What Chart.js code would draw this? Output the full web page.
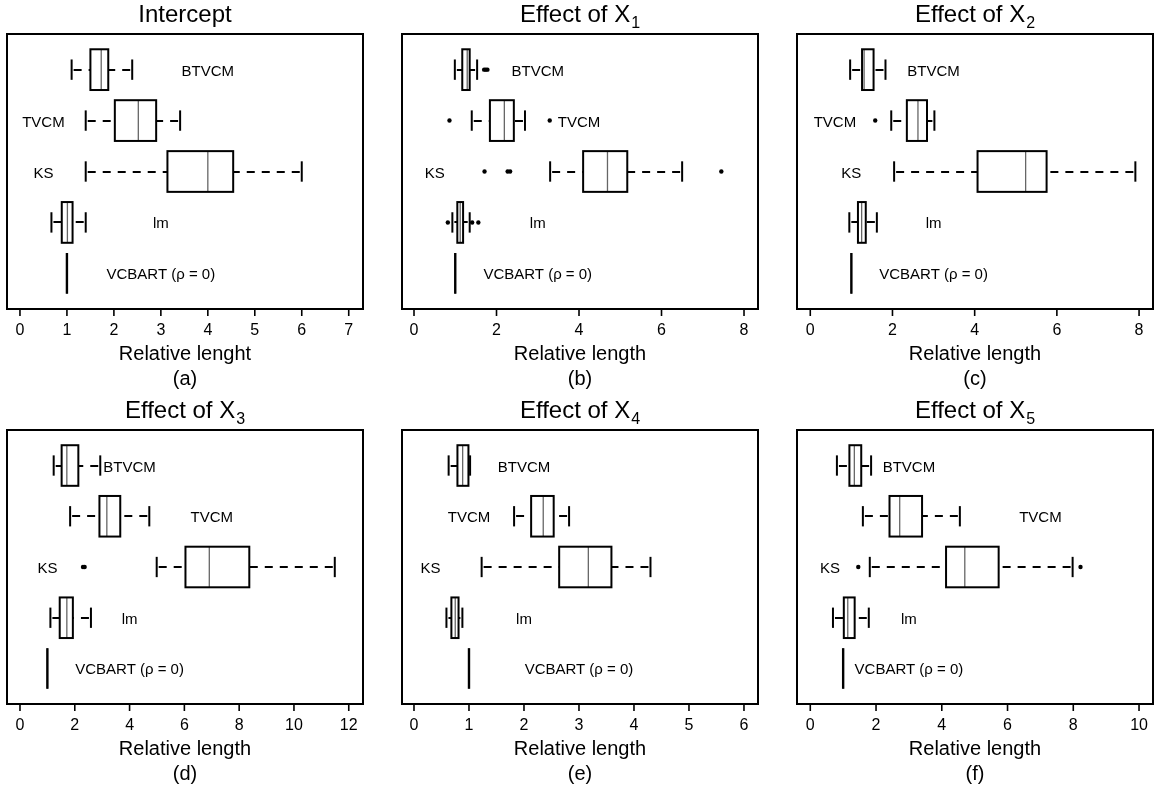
<!DOCTYPE html>
<html>
<head>
<meta charset="utf-8">
<script src="https://cdn.jsdelivr.net/npm/chart.js@4.4.1/dist/chart.umd.min.js"></script>
<style>
  body { margin: 0; background: #fff; width: 1156px; height: 790px; position: relative; overflow: hidden; }
  canvas { position: absolute; }
</style>
</head>
<body>
<canvas id="pa" width="390" height="395" style="left:0;top:0"></canvas>
<canvas id="pb" width="390" height="395" style="left:390px;top:0"></canvas>
<canvas id="pc" width="376" height="395" style="left:780px;top:0"></canvas>
<canvas id="pd" width="390" height="395" style="left:0;top:395px"></canvas>
<canvas id="pe" width="390" height="395" style="left:390px;top:395px"></canvas>
<canvas id="pf" width="376" height="395" style="left:780px;top:395px"></canvas>
<script>
const methods = ['BTVCM', 'TVCM', 'KS', 'lm', 'VCBART (\u03C1 = 0)'];

// five-number summaries per method: [min, q1, median, q3, max]
const interceptStats = [
  [1.10, 1.50, 1.73, 1.88, 2.39],
  [1.40, 2.02, 2.52, 2.90, 3.41],
  [1.40, 3.14, 4.00, 4.54, 6.00],
  [0.67, 0.89, 1.01, 1.12, 1.40],
  [1, 1, 1, 1, 1]
];
const x1Stats = [
  [0.99, 1.17, 1.29, 1.35, 1.53],
  [1.40, 1.84, 2.19, 2.42, 2.69],
  [3.30, 4.10, 4.69, 5.17, 6.50],
  [0.93, 1.05, 1.12, 1.19, 1.35],
  [1, 1, 1, 1, 1]
];
const x2Stats = [
  [0.97, 1.26, 1.31, 1.54, 1.83],
  [1.97, 2.35, 2.62, 2.84, 3.02],
  [2.04, 4.07, 5.24, 5.75, 7.91],
  [0.95, 1.16, 1.25, 1.35, 1.62],
  [1, 1, 1, 1, 1]
];
const x3Stats = [
  [1.23, 1.52, 1.71, 2.13, 2.93],
  [1.83, 2.90, 3.17, 3.66, 4.72],
  [4.99, 6.04, 6.91, 8.37, 11.49],
  [1.11, 1.45, 1.71, 1.93, 2.59],
  [1, 1, 1, 1, 1]
];
const x4Stats = [
  [0.63, 0.79, 0.885, 0.99, 1.02],
  [1.82, 2.13, 2.35, 2.54, 2.82],
  [1.23, 2.64, 3.17, 3.59, 4.30],
  [0.59, 0.68, 0.75, 0.81, 0.88],
  [1, 1, 1, 1, 1]
];
const x5Stats = [
  [0.81, 1.19, 1.34, 1.55, 1.85],
  [1.60, 2.41, 2.72, 3.40, 4.55],
  [1.81, 4.13, 4.70, 5.73, 7.98],
  [0.69, 1.02, 1.14, 1.35, 1.78],
  [1, 1, 1, 1, 1]
];

// outliers per method
const interceptOut = [[], [], [], [], []];
const x1Out = [[1.70, 1.74, 1.78], [0.86, 3.29], [1.71, 2.27, 2.33, 7.45], [0.82, 1.41, 1.56], []];
const x2Out = [[], [1.58], [], [], []];
const x3Out = [[], [], [2.30, 2.36], [], []];
const x4Out = [[], [], [], [], []];
const x5Out = [[], [], [1.46, 8.22], [], []];

// where the method names sit (x value)
const interceptLabelX = [4, 0.5, 0.5, 3, 3];
const x1LabelX = [3, 4, 0.5, 3, 3];
const x2LabelX = [3, 0.6, 1, 3, 3];
const x3LabelX = [4, 7, 1, 4, 4];
const x4LabelX = [2, 1, 0.3, 2, 3];
const x5LabelX = [3, 7, 0.6, 3, 3];

const interceptTicks = [0, 1, 2, 3, 4, 5, 6, 7];
const x1Ticks = [0, 2, 4, 6, 8];
const x2Ticks = [0, 2, 4, 6, 8];
const x3Ticks = [0, 2, 4, 6, 8, 10, 12];
const x4Ticks = [0, 1, 2, 3, 4, 5, 6];
const x5Ticks = [0, 2, 4, 6, 8, 10];

const FONT = '"Liberation Sans", Arial, Helvetica, sans-serif';

const panels = [
  { id: 'pa', title: 'Intercept', sub: '', xlab: 'Relative lenght', tag: '(a)', stats: interceptStats, out: interceptOut, labelX: interceptLabelX, ticks: interceptTicks, min: -0.276, max: 7.304, pad: { left: 7, right: 27, top: 34, bottom: 86 } },
  { id: 'pb', title: 'Effect of X', sub: '1', xlab: 'Relative length', tag: '(b)', stats: x1Stats, out: x1Out, labelX: x1LabelX, ticks: x1Ticks, min: -0.291, max: 8.339, pad: { left: 12, right: 22, top: 34, bottom: 86 } },
  { id: 'pc', title: 'Effect of X', sub: '2', xlab: 'Relative length', tag: '(c)', stats: x2Stats, out: x2Out, labelX: x2LabelX, ticks: x2Ticks, min: -0.323, max: 8.339, pad: { left: 17, right: 3, top: 34, bottom: 86 } },
  { id: 'pd', title: 'Effect of X', sub: '3', xlab: 'Relative length', tag: '(d)', stats: x3Stats, out: x3Out, labelX: x3LabelX, ticks: x3Ticks, min: -0.474, max: 12.52, pad: { left: 7, right: 27, top: 35, bottom: 86 } },
  { id: 'pe', title: 'Effect of X', sub: '4', xlab: 'Relative length', tag: '(e)', stats: x4Stats, out: x4Out, labelX: x4LabelX, ticks: x4Ticks, min: -0.218, max: 6.255, pad: { left: 12, right: 22, top: 35, bottom: 86 } },
  { id: 'pf', title: 'Effect of X', sub: '5', xlab: 'Relative length', tag: '(f)', stats: x5Stats, out: x5Out, labelX: x5LabelX, ticks: x5Ticks, min: -0.404, max: 10.425, pad: { left: 17, right: 3, top: 35, bottom: 86 } }
];

function seg(ctx, x0, y0, x1, y1) {
  ctx.beginPath();
  ctx.moveTo(x0, y0);
  ctx.lineTo(x1, y1);
  ctx.stroke();
}

const boxPlugin = {
  id: 'boxes',
  beforeDatasetsDraw(chart, args, opts) {
    const { ctx } = chart;
    const x = chart.scales.x, y = chart.scales.y;
    opts.stats.forEach((s, i) => {
      const row = i + 1;
      const yc = Math.round(y.getPixelForValue(row));
      const yt = y.getPixelForValue(row - 0.4);
      const yb = y.getPixelForValue(row + 0.4);
      const c0 = y.getPixelForValue(row - 0.2);
      const c1 = y.getPixelForValue(row + 0.2);
      const [mn, q1, md, q3, mx] = s.map(v => x.getPixelForValue(v));
      ctx.save();
      ctx.strokeStyle = '#000';
      ctx.lineWidth = 2;
      ctx.setLineDash([8, 7]);
      // whiskers run from the end towards the box
      if (q1 - mn > 0.5) seg(ctx, mn + 2, yc, q1, yc);
      if (mx - q3 > 0.5) seg(ctx, mx - 2, yc, q3, yc);
      ctx.setLineDash([]);
      if (q1 - mn > 0.5) seg(ctx, mn, c0, mn, c1);
      if (mx - q3 > 0.5) seg(ctx, mx, c0, mx, c1);
      // median
      ctx.strokeStyle = '#666';
      ctx.lineWidth = 1.3;
      seg(ctx, md, yt, md, yb);
      // box
      ctx.strokeStyle = '#000';
      ctx.lineWidth = 2;
      if (q3 - q1 > 0.5) {
        ctx.strokeRect(q1, yt, q3 - q1, yb - yt);
      } else {
        ctx.lineWidth = 2.4;
        seg(ctx, q1, yt, q1, yb);
      }
      ctx.restore();
    });
  },
  afterDraw(chart, args, opts) {
    const { ctx, chartArea: a } = chart;
    const x = chart.scales.x, y = chart.scales.y;
    ctx.save();
    ctx.strokeStyle = '#000';
    ctx.fillStyle = '#000';
    ctx.lineWidth = 2;
    ctx.strokeRect(a.left, a.top, a.right - a.left, a.bottom - a.top);

    // x axis ticks and labels
    ctx.lineWidth = 1.6;
    ctx.font = '16px ' + FONT;
    ctx.textAlign = 'center';
    ctx.textBaseline = 'alphabetic';
    opts.ticks.forEach(t => {
      const px = x.getPixelForValue(t);
      seg(ctx, px, a.bottom, px, a.bottom + 7);
      ctx.fillText(String(t), px, a.bottom + 26);
    });
    const cx = (a.left + a.right) / 2;
    ctx.font = '20px ' + FONT;
    ctx.fillText(opts.xlab, cx, a.bottom + 51);
    ctx.fillText(opts.tag, cx, a.bottom + 76);

    // method names
    ctx.font = '15px ' + FONT;
    methods.forEach((m, i) => {
      ctx.fillText(m, x.getPixelForValue(opts.labelX[i]), y.getPixelForValue(i + 1) + 6);
    });

    // title with subscript
    ctx.font = '24px ' + FONT;
    const wMain = ctx.measureText(opts.title).width;
    ctx.font = '16px ' + FONT;
    const wSub = opts.sub ? ctx.measureText(opts.sub).width + 1 : 0;
    const start = cx - (wMain + wSub) / 2;
    ctx.textAlign = 'left';
    ctx.font = '24px ' + FONT;
    ctx.fillText(opts.title, start, a.top - 12);
    if (opts.sub) {
      ctx.font = '16px ' + FONT;
      ctx.fillText(opts.sub, start + wMain + 1, a.top - 6);
    }
    ctx.restore();
  }
};

panels.forEach(p => {
  const pts = [];
  p.out.forEach((vals, i) => vals.forEach(v => pts.push({ x: v, y: i + 1 })));
  new Chart(document.getElementById(p.id), {
    type: 'scatter',
    data: {
      datasets: [{
        data: pts,
        pointRadius: 2.2,
        pointHoverRadius: 2.2,
        backgroundColor: '#000',
        borderWidth: 0
      }]
    },
    options: {
      responsive: false,
      animation: false,
      devicePixelRatio: 1,
      events: [],
      layout: { padding: p.pad },
      scales: {
        x: { type: 'linear', min: p.min, max: p.max, display: false },
        y: { type: 'linear', min: 0.3, max: 5.7, reverse: true, display: false }
      },
      plugins: {
        legend: { display: false },
        tooltip: { enabled: false },
        boxes: { stats: p.stats, labelX: p.labelX, ticks: p.ticks, xlab: p.xlab, tag: p.tag, title: p.title, sub: p.sub }
      }
    },
    plugins: [boxPlugin]
  });
});
</script>
</body>
</html>
